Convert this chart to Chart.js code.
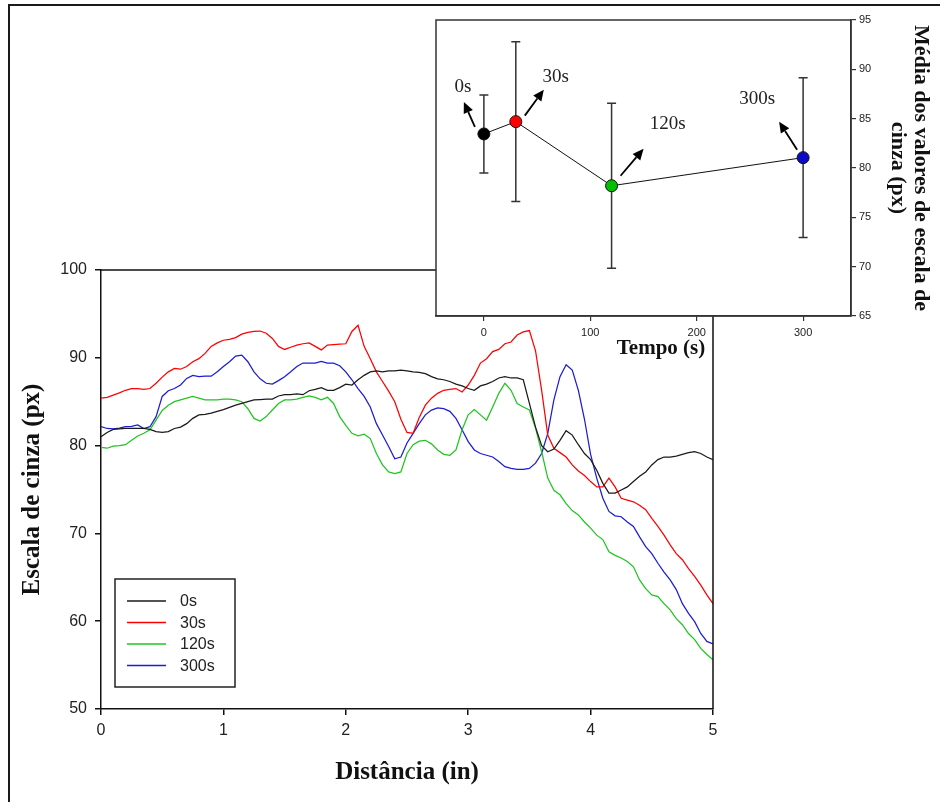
<!DOCTYPE html>
<html lang="pt">
<head>
<meta charset="utf-8">
<title>Escala de cinza ao longo da distância</title>
<script src="https://cdn.jsdelivr.net/npm/chart.js@4.4.1/dist/chart.umd.min.js"></script>
<style>
  html, body { margin: 0; padding: 0; background: #fff; }
  #stage { position: relative; width: 940px; height: 802px; overflow: hidden; background: #fff; }
  #stage canvas { position: absolute; left: 0; top: 0; }
  #frame { position: absolute; left: 8px; top: 4px; width: 960px; height: 820px;
           border-top: 2px solid #1a1a1a; border-left: 2px solid #1a1a1a; pointer-events: none; }
</style>
</head>
<body>
<div id="stage">
  <canvas id="perfil" width="940" height="802"></canvas>
  <canvas id="media" width="940" height="802"></canvas>
  <div id="frame"></div>
</div>
<script>
// ---- Perfis de escala de cinza (px) ao longo da distância (in) ----
const rotulos = ['0s', '30s', '120s', '300s'];

const distancia = [
  0, 0.05, 0.1, 0.15, 0.2, 0.25, 0.3, 0.35, 0.4, 0.45,
  0.5, 0.55, 0.6, 0.65, 0.7, 0.75, 0.8, 0.85, 0.9, 0.95,
  1, 1.05, 1.1, 1.15, 1.2, 1.25, 1.3, 1.35, 1.4, 1.45,
  1.5, 1.55, 1.6, 1.65, 1.7, 1.75, 1.8, 1.85, 1.9, 1.95,
  2, 2.05, 2.1, 2.15, 2.2, 2.25, 2.3, 2.35, 2.4, 2.45,
  2.5, 2.55, 2.6, 2.65, 2.7, 2.75, 2.8, 2.85, 2.9, 2.95,
  3, 3.05, 3.1, 3.15, 3.2, 3.25, 3.3, 3.35, 3.4, 3.45,
  3.5, 3.55, 3.6, 3.65, 3.7, 3.75, 3.8, 3.85, 3.9, 3.95,
  4, 4.05, 4.1, 4.15, 4.2, 4.25, 4.3, 4.35, 4.4, 4.45,
  4.5, 4.55, 4.6, 4.65, 4.7, 4.75, 4.8, 4.85, 4.9, 4.95,
  5
];

const cinza0s = [
  81.0, 81.5, 81.85, 81.9, 81.95, 81.95, 81.95, 81.95, 81.85, 81.6,
  81.5, 81.6, 81.95, 82.1, 82.5, 83.1, 83.5, 83.55, 83.7, 83.9,
  84.1, 84.35, 84.6, 84.8, 85.0, 85.2, 85.25, 85.3, 85.3, 85.65,
  85.8, 85.8, 85.9, 85.8, 86.25, 86.4, 86.6, 86.3, 86.3, 86.6,
  87.0, 86.9, 87.5, 88.0, 88.4, 88.5, 88.4, 88.5, 88.5, 88.6,
  88.5, 88.4, 88.35, 88.2, 87.85, 87.6, 87.5, 87.3, 87.0, 86.8,
  86.5, 86.3, 86.8, 87.0, 87.3, 87.7, 87.85, 87.7, 87.7, 87.5,
  84.8, 82.1, 80.0, 79.3, 79.6, 80.6, 81.7, 81.2, 80.1, 79.1,
  78.4, 77.2, 75.7, 74.6, 74.6, 74.95, 75.3, 75.9, 76.5, 77.0,
  77.8, 78.4, 78.7, 78.7, 78.8, 79.0, 79.2, 79.3, 79.1, 78.7,
  78.4
];

const cinza30s = [
  85.4, 85.5, 85.75, 86.0, 86.3, 86.5, 86.5, 86.4, 86.5, 87.1,
  87.8, 88.4, 88.8, 88.7, 89.0, 89.55, 89.9, 90.5, 91.3, 91.7,
  92.0, 92.1, 92.3, 92.7, 92.9, 93.0, 93.05, 92.8, 92.2, 91.3,
  90.95, 91.2, 91.45, 91.6, 91.7, 91.3, 90.9, 91.45, 91.5, 91.55,
  91.6, 93.0, 93.7, 91.3, 89.9, 88.4, 87.3, 86.2, 85.0, 83.0,
  81.5, 81.4, 83.2, 84.6, 85.4, 85.95, 86.3, 86.4, 86.5, 86.1,
  86.9, 88.0, 89.4, 89.9, 90.7, 90.95, 91.6, 91.8, 92.6, 92.95,
  93.1, 90.8, 86.3, 81.2, 79.7, 79.2, 78.7, 77.8, 77.1, 76.6,
  75.9, 75.3, 75.3, 76.3, 75.3, 74.0, 73.8, 73.6, 73.2, 72.7,
  71.7, 70.8, 69.8, 68.7, 67.7, 67.0, 66.0, 65.1, 64.1, 63.0,
  62.0
];

const cinza120s = [
  79.8, 79.7, 79.95, 80.0, 80.1, 80.6, 81.1, 81.4, 81.8, 82.9,
  84.0, 84.6, 85.0, 85.2, 85.4, 85.6, 85.4, 85.2, 85.2, 85.2,
  85.3, 85.3, 85.2, 85.0, 84.2, 83.1, 82.8, 83.3, 84.05, 84.8,
  85.2, 85.2, 85.3, 85.5, 85.65, 85.5, 85.2, 85.5, 84.8, 83.3,
  82.3, 81.4, 81.1, 81.3, 80.8, 79.1, 77.8, 77.0, 76.8, 77.0,
  79.1, 80.1, 80.5, 80.6, 80.2, 79.5, 79.0, 78.9, 79.5, 81.8,
  83.5, 84.1, 83.5, 82.9, 84.4, 85.95, 87.1, 86.3, 84.8, 84.4,
  84.05, 82.0, 79.3, 76.3, 74.9, 74.4, 73.4, 72.6, 72.1, 71.3,
  70.6, 69.8, 69.3, 67.9, 67.5, 67.2, 66.8, 66.2, 64.7, 63.7,
  63.0, 62.8, 62.0, 61.3, 60.3, 59.6, 58.6, 57.9, 56.9, 56.2,
  55.6
];

const cinza300s = [
  82.15, 81.95, 81.9, 82.0, 82.15, 82.2, 82.35, 81.95, 82.15, 83.3,
  85.6, 86.25, 86.5, 86.9, 87.65, 88.0, 87.85, 87.9, 87.9, 88.4,
  89.0, 89.55, 90.2, 90.3, 89.55, 88.4, 87.6, 87.1, 87.0, 87.4,
  87.85, 88.4, 89.0, 89.4, 89.4, 89.4, 89.6, 89.4, 89.4, 89.1,
  88.4, 87.5, 86.5, 85.6, 84.4, 82.5, 81.2, 79.9, 78.5, 78.7,
  80.3, 81.4, 82.5, 83.5, 84.05, 84.3, 84.2, 83.9, 83.1, 81.8,
  80.45, 79.5, 79.1, 78.9, 78.7, 78.2, 77.6, 77.4, 77.3, 77.3,
  77.4, 78.0, 79.1, 81.4, 85.2, 87.85, 89.2, 88.6, 86.3, 83.0,
  79.0, 76.3, 74.0, 72.5, 72.0, 71.9, 71.3, 70.8, 69.6, 68.5,
  67.7, 66.6, 65.6, 64.7, 63.6, 62.0, 60.9, 59.95, 58.6, 57.7,
  57.4
];

const marcasDistancia = [0, 1, 2, 3, 4, 5];
const marcasCinza = [50, 60, 70, 80, 90, 100];

// ---- Média dos valores de escala de cinza por tempo ----
const tempo = [0, 30, 120, 300];
const mediaCinza = [83.45, 84.7, 78.2, 81.05];
const desvioCinza = [3.95, 8.1, 8.35, 8.1];
const marcasTempo = [0, 100, 200, 300];
const marcasMedia = [65, 70, 75, 80, 85, 90, 95];

// ---- Estilo ----
const coresLinhas = ['#1a1a1a', '#ff0000', '#21c421', '#1c1cd4'];
const coresPontos = ['#000000', '#ff0000', '#00c000', '#0a0ac8'];
const SANS = '"Liberation Sans", Arial, sans-serif';
const SERIF = '"Liberation Serif", "Times New Roman", serif';
const TINTA = '#111';

// deslocamentos (px) das setas e rótulos em relação a cada ponto
const setas = [
  { cauda: [-9, -7],  ponta: [-20, -32], texto: [-21, -47] },
  { cauda: [9, -6],   ponta: [28, -32],  texto: [40, -45] },
  { cauda: [9, -10],  ponta: [32, -37],  texto: [56, -62] },
  { cauda: [-6, -8],  ponta: [-24, -36], texto: [-46, -59] }
];

const perfis = [cinza0s, cinza30s, cinza120s, cinza300s];

// moldura do gráfico principal e legenda com caixa
const molduraPerfil = {
  id: 'molduraPerfil',
  afterDraw(chart) {
    const { ctx, chartArea: a } = chart;
    ctx.save();
    ctx.strokeStyle = TINTA;
    ctx.lineWidth = 1.5;
    ctx.beginPath();
    ctx.moveTo(a.left, a.top);
    ctx.lineTo(a.right, a.top);
    ctx.lineTo(a.right, a.bottom);
    ctx.stroke();

    // legenda
    const bx = a.left + 14, by = a.bottom - 130, bw = 120, bh = 108;
    ctx.fillStyle = '#fff';
    ctx.fillRect(bx, by, bw, bh);
    ctx.strokeStyle = '#222';
    ctx.lineWidth = 1.5;
    ctx.strokeRect(bx, by, bw, bh);
    ctx.font = '16px ' + SANS;
    ctx.textBaseline = 'middle';
    ctx.textAlign = 'left';
    chart.data.datasets.forEach((ds, i) => {
      const y = by + 22 + i * 21.5;
      ctx.strokeStyle = ds.borderColor;
      ctx.lineWidth = 1.5;
      ctx.beginPath();
      ctx.moveTo(bx + 12, y);
      ctx.lineTo(bx + 51, y);
      ctx.stroke();
      ctx.fillStyle = '#222';
      ctx.fillText(ds.label, bx + 65, y + 1);
    });
    ctx.restore();
  }
};

new Chart(document.getElementById('perfil'), {
  type: 'line',
  data: {
    datasets: perfis.map((serie, k) => ({
      label: rotulos[k],
      data: serie.map((v, i) => ({ x: distancia[i], y: v })),
      borderColor: coresLinhas[k],
      borderWidth: 1.25,
      pointRadius: 0,
      tension: 0,
      fill: false
    }))
  },
  options: {
    responsive: false,
    animation: false,
    devicePixelRatio: 1,
    events: [],
    layout: { padding: { left: 0, top: 270, right: 227, bottom: 0 } },
    plugins: { legend: { display: false }, tooltip: { enabled: false } },
    scales: {
      x: {
        type: 'linear', min: 0, max: 5,
        afterBuildTicks: s => { s.ticks = marcasDistancia.map(v => ({ value: v })); },
        afterFit: s => { s.height = 93; },
        ticks: { color: '#222', font: { family: SANS, size: 16 }, padding: 6 },
        grid: { drawOnChartArea: false, drawTicks: true, tickLength: 6, color: TINTA, lineWidth: 1.5 },
        border: { display: true, color: TINTA, width: 1.5 },
        title: { display: true, text: 'Distância (in)', color: TINTA,
                 font: { family: SERIF, size: 25, weight: 'bold' }, padding: { top: 0, bottom: 14 } }
      },
      y: {
        type: 'linear', min: 50, max: 100,
        afterBuildTicks: s => { s.ticks = marcasCinza.map(v => ({ value: v })); },
        afterFit: s => { s.width = 101; },
        ticks: { color: '#222', font: { family: SANS, size: 16 }, padding: 8 },
        grid: { drawOnChartArea: false, drawTicks: true, tickLength: 6, color: TINTA, lineWidth: 1.5 },
        border: { display: true, color: TINTA, width: 1.5 },
        title: { display: true, text: 'Escala de cinza (px)', color: TINTA,
                 font: { family: SERIF, size: 25, weight: 'bold' }, padding: { top: 18, bottom: 0 } }
      }
    }
  },
  plugins: [molduraPerfil]
});

// fundo branco, barras de erro, caixa, setas e rótulos do gráfico de médias
function desenhaSeta(ctx, x0, y0, x1, y1) {
  const ang = Math.atan2(y1 - y0, x1 - x0);
  const L = 11, W = 5;
  const bx = x1 - L * Math.cos(ang), by = y1 - L * Math.sin(ang);
  ctx.beginPath();
  ctx.moveTo(x0, y0);
  ctx.lineTo(bx, by);
  ctx.stroke();
  ctx.beginPath();
  ctx.moveTo(x1, y1);
  ctx.lineTo(bx + W * Math.sin(ang), by - W * Math.cos(ang));
  ctx.lineTo(bx - W * Math.sin(ang), by + W * Math.cos(ang));
  ctx.closePath();
  ctx.fill();
}

const decoracaoMedia = {
  id: 'decoracaoMedia',
  beforeDraw(chart) {
    const { ctx, chartArea: a } = chart;
    ctx.save();
    ctx.fillStyle = '#fff';
    ctx.fillRect(a.left, a.top, a.right - a.left, a.bottom - a.top);
    ctx.restore();
  },
  beforeDatasetsDraw(chart) {
    const { ctx, scales: { x, y } } = chart;
    ctx.save();
    ctx.strokeStyle = '#333';
    ctx.lineWidth = 1.5;
    tempo.forEach((t, i) => {
      const px = x.getPixelForValue(t);
      const yTop = y.getPixelForValue(mediaCinza[i] + desvioCinza[i]);
      const yBot = y.getPixelForValue(mediaCinza[i] - desvioCinza[i]);
      ctx.beginPath();
      ctx.moveTo(px, yTop); ctx.lineTo(px, yBot);
      ctx.moveTo(px - 4.5, yTop); ctx.lineTo(px + 4.5, yTop);
      ctx.moveTo(px - 4.5, yBot); ctx.lineTo(px + 4.5, yBot);
      ctx.stroke();
    });
    ctx.restore();
  },
  afterDraw(chart) {
    const { ctx, chartArea: a, scales: { x, y } } = chart;
    ctx.save();
    ctx.strokeStyle = '#333';
    ctx.lineWidth = 1.5;
    ctx.strokeRect(a.left, a.top, a.right - a.left, a.bottom - a.top);

    ctx.strokeStyle = '#000';
    ctx.fillStyle = '#000';
    ctx.lineWidth = 1.8;
    ctx.font = '19px ' + SERIF;
    ctx.textAlign = 'center';
    ctx.textBaseline = 'middle';
    tempo.forEach((t, i) => {
      const px = x.getPixelForValue(t);
      const py = y.getPixelForValue(mediaCinza[i]);
      const s = setas[i];
      desenhaSeta(ctx, px + s.cauda[0], py + s.cauda[1], px + s.ponta[0], py + s.ponta[1]);
      ctx.fillStyle = '#222';
      ctx.fillText(rotulos[i], px + s.texto[0], py + s.texto[1]);
      ctx.fillStyle = '#000';
    });

    ctx.fillStyle = TINTA;
    ctx.font = 'bold 21px ' + SERIF;
    ctx.fillText('Tempo (s)', 661, 349);
    ctx.restore();
  }
};

new Chart(document.getElementById('media'), {
  type: 'scatter',
  data: {
    datasets: [{
      label: 'Média',
      data: tempo.map((t, i) => ({ x: t, y: mediaCinza[i] })),
      showLine: true,
      borderColor: '#111',
      borderWidth: 1,
      pointRadius: 6,
      pointBackgroundColor: coresPontos,
      pointBorderColor: '#111',
      pointBorderWidth: 1
    }]
  },
  options: {
    responsive: false,
    animation: false,
    devicePixelRatio: 1,
    events: [],
    layout: { padding: { left: 436, top: 20, right: 0, bottom: 0 } },
    plugins: { legend: { display: false }, tooltip: { enabled: false } },
    scales: {
      x: {
        type: 'linear', position: 'bottom', min: -45, max: 345,
        afterBuildTicks: s => { s.ticks = marcasTempo.map(v => ({ value: v })); },
        afterFit: s => { s.height = 486; },
        ticks: { color: '#222', font: { family: SANS, size: 11 }, padding: 5 },
        grid: { drawOnChartArea: false, drawTicks: true, tickLength: 5, color: '#333', lineWidth: 1.2 },
        border: { display: true, color: '#333', width: 1.5 }
      },
      y: {
        type: 'linear', position: 'right', min: 65, max: 95,
        afterBuildTicks: s => { s.ticks = marcasMedia.map(v => ({ value: v })); },
        afterFit: s => { s.width = 89; },
        ticks: { color: '#222', font: { family: SANS, size: 11 }, padding: 3 },
        grid: { drawOnChartArea: false, drawTicks: true, tickLength: 5, color: '#333', lineWidth: 1.2 },
        border: { display: true, color: '#333', width: 1.5 },
        title: { display: true, text: ['Média dos valores de escala de', 'cinza (px)'], color: TINTA,
                 font: { family: SERIF, size: 22, weight: 'bold', lineHeight: 1.08 }, padding: { top: 7, bottom: 0 } }
      }
    }
  },
  plugins: [decoracaoMedia]
});
</script>
</body>
</html>
